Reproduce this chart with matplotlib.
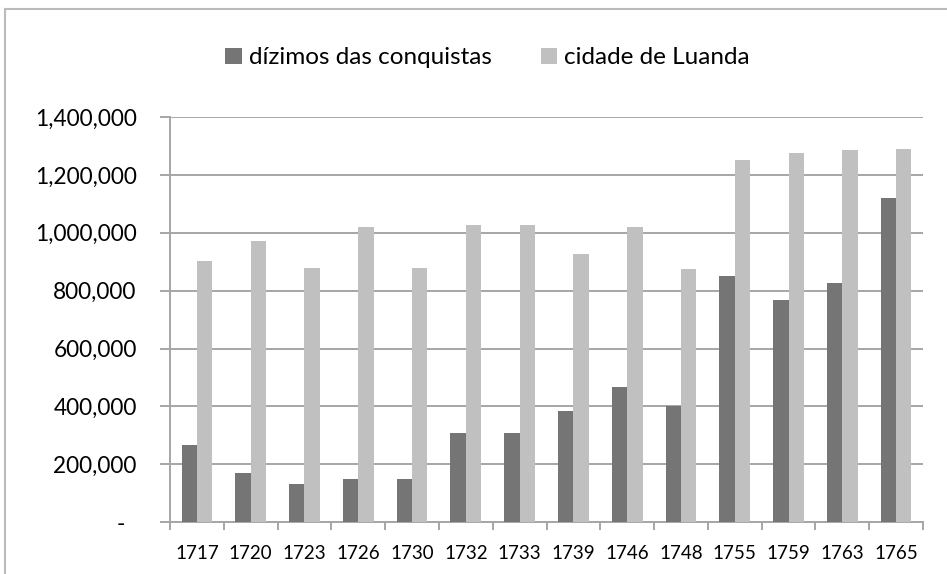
import matplotlib
matplotlib.use("Agg")
import matplotlib.pyplot as plt
import numpy as np
from matplotlib.lines import Line2D
from matplotlib.ticker import FixedLocator, FuncFormatter

plt.rcParams['font.family'] = ['Lato', 'DejaVu Sans']

years = ["1717", "1720", "1723", "1726", "1730", "1732", "1733",
         "1739", "1746", "1748", "1755", "1759", "1763", "1765"]
dizimos = [268000, 172000, 132000, 149000, 149000, 310000, 310000,
           383000, 466000, 403000, 851000, 768000, 826000, 1120000]
luanda = [901000, 970000, 877000, 1021000, 877000, 1028000, 1028000,
          926000, 1020000, 875000, 1253000, 1276000, 1287000, 1290000]
series_names = ["dízimos das conquistas", "cidade de Luanda"]
dark = "#757575"
light = "#C0C0C0"
grid_c = "#A6A6A6"

fig = plt.figure(figsize=(9.47, 5.74), dpi=100)
ax = fig.add_axes([170/947, 1-522.3/574, (923-170)/947, (522.3-117)/574])

x = np.arange(len(years))
w = 0.286
ax.bar(x - w/2, dizimos, width=w, color=dark, label=series_names[0], zorder=3)
ax.bar(x + w/2, luanda, width=w, color=light, label=series_names[1], zorder=3)

ax.set_xlim(-0.5, len(years) - 0.5)
ax.set_ylim(0, 1400000)
ax.set_yticks(np.arange(0, 1400001, 200000))
ax.yaxis.set_major_formatter(FuncFormatter(lambda v, p: "-  " if v == 0 else f"{int(v):,}"))
ax.yaxis.grid(True, color=grid_c, lw=1.4, zorder=0)
ax.set_xticks(x)
ax.set_xticklabels(years)
ax.xaxis.set_minor_locator(FixedLocator(np.arange(-0.5, len(years), 1)))
ax.tick_params(axis='x', which='major', length=0, pad=16, labelsize=13.5, colors='black')
ax.tick_params(axis='x', which='minor', length=6, width=1.4, color=grid_c, direction='out')
ax.tick_params(axis='y', length=7, width=1.4, color=grid_c, pad=17, labelsize=16.3)
for s in ['top', 'right']:
    ax.spines[s].set_visible(False)
for s in ['left', 'bottom']:
    ax.spines[s].set_color(grid_c)
    ax.spines[s].set_linewidth(1.4)

fig.legend(loc='center', bbox_to_anchor=(0.515, 0.899), ncol=2, frameon=False,
           fontsize=17.5, handlelength=0.68, handleheight=0.68, handletextpad=0.3,
           columnspacing=2.0)

fig.add_artist(Line2D([5/947, 5/947], [0, 1-9/574], transform=fig.transFigure, color="#BBBBBB", lw=1.5))
fig.add_artist(Line2D([5/947, 1], [1-9/574, 1-9/574], transform=fig.transFigure, color="#BBBBBB", lw=1.5))

fig.savefig("out.png", dpi=100)
